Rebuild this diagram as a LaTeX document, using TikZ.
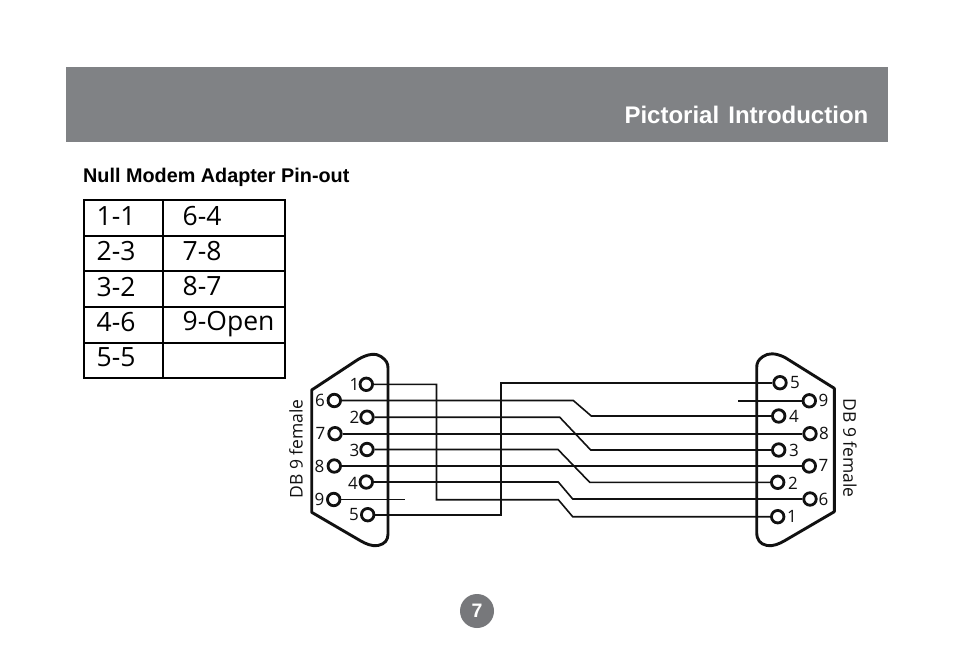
\documentclass[tikz,border=0pt]{standalone}
\usepackage{fontspec}
\setmainfont{Open Sans}
\newfontfamily\heros{Liberation Sans}
\definecolor{bannergray}{HTML}{808285}
\definecolor{pagegray}{HTML}{77787B}
\definecolor{ink}{HTML}{111111}
\begin{document}
\begin{tikzpicture}[x=1pt,y=-1pt,
  pin/.style={circle,draw=ink,line width=2.8pt,fill=white,inner sep=0pt,minimum size=12.5pt},
  pinlabel/.style={font=\fontsize{17}{17}\selectfont,text=ink,inner sep=0pt},
  wire/.style={draw=ink,line width=1.6pt,line join=miter},
  shell/.style={draw=ink,line width=2.9pt,line join=round},
  cell/.style={font=\fontsize{26.5}{26.5}\selectfont,text=black,inner sep=0pt,anchor=base west},
  grid/.style={draw=black,line width=2pt},
  side/.style={font=\fontsize{17.5}{17.5}\selectfont,text=ink,inner sep=0pt}]
\useasboundingbox (0,0) rectangle (954,665);
\fill[white] (0,0) rectangle (954,665);
\fill[bannergray] (66,67) rectangle (888,142);
\node[anchor=east,inner sep=0pt,text=white,font=\heros\bfseries\fontsize{24}{24}\selectfont] (title) at (868.5,115) {Pictorial\hspace{0.38em}Introduction};
\node[anchor=west,inner sep=0pt,text=black,font=\heros\bfseries\fontsize{19.8}{19.8}\selectfont] (head) at (83,177) {Null Modem Adapter Pin-out};
% table
\draw[grid] (83.7,200) rectangle (284.5,378.3);
\draw[grid] (162.7,200) -- (162.7,378.3);
\draw[grid] (83.7,235.7) -- (284.5,235.7);
\draw[grid] (83.7,271) -- (284.5,271);
\draw[grid] (83.7,306.8) -- (284.5,306.8);
\draw[grid] (83.7,342.8) -- (284.5,342.8);
\node[cell] (a1) at (96.5,225) {1-1};
\node[cell] (a2) at (96.5,260) {2-3};
\node[cell] (a3) at (96.5,296) {3-2};
\node[cell] (a4) at (96.5,331) {4-6};
\node[cell] (a5) at (96.5,366) {5-5};
\node[cell] (b1) at (182.5,225) {6-4};
\node[cell] (b2) at (182.5,260) {7-8};
\node[cell] (b3) at (182.5,295) {8-7};
\node[cell] (b4) at (182.5,330) {9-Open};
% shells
\draw[shell] (311.7,390) -- (358,359.5) .. controls (368,353.5) and (376,353) .. (381,356.5) .. controls (386,360) and (388,363) .. (388,368) -- (388,534) .. controls (388,540) and (385,544) .. (378,545.5) .. controls (372,546.5) and (366,544) .. (360,540.5) -- (311.7,512.3) -- cycle;
\draw[shell] (834.3,388.3) -- (785,357.5) .. controls (775,352.5) and (768,353) .. (763,356.5) .. controls (758,360) and (756.7,363) .. (756.7,368) -- (756.7,532) .. controls (756.7,540) and (760,544) .. (767,545.5) .. controls (773,546.5) and (779,544) .. (785,540.5) -- (834.3,511.7) -- cycle;
\coordinate (stubL) at (405,499.5);
\coordinate (stubR) at (738,400.8);
% pins
\node[pin] (l1) at (366.3,384.3) {};
\node[pin] (l6) at (334.3,400.5) {};
\node[pin] (l2) at (367,417.2) {};
\node[pin] (l7) at (335,433.7) {};
\node[pin] (l3) at (367,449.5) {};
\node[pin] (l8) at (334.3,466) {};
\node[pin] (l4) at (366.3,482) {};
\node[pin] (l9) at (333.7,499.5) {};
\node[pin] (l5) at (367.7,514.7) {};
\node[pin] (r5) at (780,382.7) {};
\node[pin] (r9) at (809.3,400.8) {};
\node[pin] (r4) at (778.7,416) {};
\node[pin] (r8) at (810,433.7) {};
\node[pin] (r3) at (778.7,450) {};
\node[pin] (r7) at (809.3,466) {};
\node[pin] (r2) at (777.7,482.3) {};
\node[pin] (r6) at (810,499) {};
\node[pin] (r1) at (777.7,516.7) {};
% connectors
\draw[wire] (l1.east) -- (436.5,384.3) -- (436.5,499.7) -- (558.3,499.7) -- (572.7,516.7) -- (r1.west);
\draw[wire] (l6.east) -- (573.3,400.5) -- (591.3,416) -- (r4.west);
\draw[wire] (l2.east) -- (559.7,417.2) -- (590.7,450) -- (r3.west);
\draw[wire] (l7.east) -- (r8.west);
\draw[wire] (l3.east) -- (558,449.5) -- (589.7,482.3) -- (r2.west);
\draw[wire] (l8.east) -- (r7.west);
\draw[wire] (l4.east) -- (558.3,482) -- (572.7,499) -- (r6.west);
\draw[wire] (l9.east) -- (stubL);
\draw[wire] (r9.west) -- (stubR);
\draw[wire] (l5.east) -- (500.8,514.7) -- (500.8,382.7) -- (r5.west);
% pin labels
\foreach \n/\x/\y/\t in {n1/354.5/384/1,n6/320/400/6,n2/354.5/417/2,n7/320.5/433/7,n3/354.5/450/3,n8/319.5/466/8,n4/353/483/4,n9/319.5/499/9,n5/354/515/5,
  m5/795/383/5,m9/823.5/400/9,m4/794/416/4,m8/824/433/8,m3/794/450/3,m7/823.5/465/7,m2/793/483/2,m6/823.5/499/6,m1/792/516/1}
  \node[pinlabel] (\n) at (\x,\y) {\t};
\node[side,rotate=90] (dbl) at (296,449) {DB 9 female};
\node[side,rotate=-90] (dbr) at (850,448) {DB 9 female};
% page number
\node[circle,fill=pagegray,minimum size=34pt,inner sep=0pt,text=white,font=\heros\bfseries\fontsize{19.5}{19.5}\selectfont] (page) at (477,611) {7};
\end{tikzpicture}
\end{document}
